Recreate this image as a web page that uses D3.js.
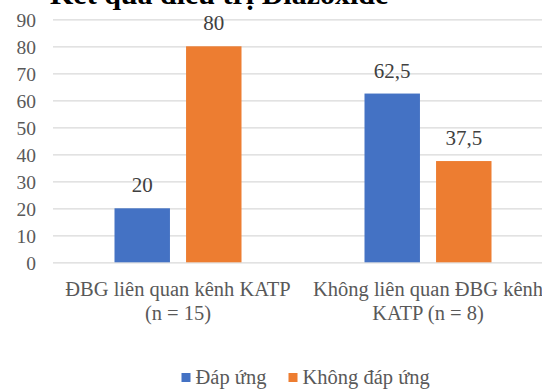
<!DOCTYPE html>
<html>
<head>
<meta charset="utf-8">
<script src="https://cdn.jsdelivr.net/npm/d3@7"></script>
<style>html,body{margin:0;background:#fff}</style>
</head>
<body>
<svg id="chart" width="542" height="392" font-family="Liberation Serif"></svg>
<script>
// Chart data
const title = "Kết quả điều trị Diazoxide";
const categories = [
  ["ĐBG liên quan kênh KATP", "(n = 15)"],
  ["Không liên quan ĐBG kênh", "KATP (n = 8)"]
];
const seriesNames = ["Đáp ứng", "Không đáp ứng"];
const responded = [20, 62.5];
const notResponded = [80, 37.5];
const yTicks = [0, 10, 20, 30, 40, 50, 60, 70, 80, 90];
const colors = ["#4472c4", "#ed7d31"];

const svg = d3.select("#chart");
const plot = { left: 53, right: 553, top: 19.3, bottom: 262.3 };

const rows = categories.map((c, i) => ({
  label: c,
  values: [responded[i], notResponded[i]]
}));

const y = d3.scaleLinear().domain([0, 90]).range([plot.bottom, plot.top]);
const x0 = d3.scaleBand()
  .domain(d3.range(categories.length))
  .range([plot.left, plot.right])
  .paddingInner(0.492)
  .paddingOuter(0.246);
const x1 = d3.scaleBand()
  .domain(d3.range(seriesNames.length))
  .range([0, x0.bandwidth()])
  .paddingInner(0.225);

// Title (runs off the top edge of the canvas)
svg.append("text")
  .attr("x", 50)
  .attr("y", 4)
  .attr("font-size", 30)
  .attr("font-weight", "bold")
  .attr("fill", "#000")
  .text(title);

// Gridlines and y tick labels
const yAxis = d3.axisLeft(y).tickValues(yTicks).tickSize(-(plot.right - plot.left)).tickPadding(17);
const gy = svg.append("g").attr("transform", `translate(${plot.left},0)`).call(yAxis);
gy.attr("font-family", "Liberation Serif").attr("font-size", 19.5);
gy.select(".domain").remove();
gy.selectAll(".tick line").attr("stroke", "#d9d9d9").attr("stroke-width", 1.2);
gy.selectAll(".tick text").attr("fill", "#595959").attr("dy", "0.36em");

// Bars
const groups = svg.append("g").selectAll("g")
  .data(rows)
  .join("g")
  .attr("transform", (d, i) => `translate(${x0(i)},0)`);

groups.selectAll("rect")
  .data(d => d.values)
  .join("rect")
  .attr("x", (v, j) => x1(j))
  .attr("width", x1.bandwidth())
  .attr("y", v => y(v))
  .attr("height", v => y(0) - y(v))
  .attr("fill", (v, j) => colors[j]);

// Value labels
const fmt = v => String(v).replace(".", ",");
groups.selectAll("text.val")
  .data(d => d.values)
  .join("text")
  .attr("class", "val")
  .attr("x", (v, j) => x1(j) + x1.bandwidth() / 2)
  .attr("y", v => y(v) - 16)
  .attr("text-anchor", "middle")
  .attr("font-size", 21)
  .attr("fill", "#404040")
  .text(fmt);

// Category labels
const cat = svg.append("g").selectAll("text")
  .data(rows)
  .join("text")
  .attr("x", (d, i) => x0(i) + x0.bandwidth() / 2)
  .attr("y", 296)
  .attr("text-anchor", "middle")
  .attr("font-size", 20.5)
  .attr("fill", "#595959");
cat.selectAll("tspan")
  .data(d => d.label)
  .join("tspan")
  .attr("x", function () { return d3.select(this.parentNode).attr("x"); })
  .attr("dy", (t, k) => k === 0 ? 0 : 23.5)
  .text(t => t);

// Legend
const legendX = [181.5, 288.5];
const leg = svg.append("g").selectAll("g")
  .data(seriesNames)
  .join("g")
  .attr("transform", (d, i) => `translate(${legendX[i]},0)`);
leg.append("rect")
  .attr("x", 0).attr("y", 373)
  .attr("width", 9).attr("height", 9)
  .attr("fill", (d, i) => colors[i]);
leg.append("text")
  .attr("x", 14).attr("y", 383.5)
  .attr("font-size", 20.5)
  .attr("fill", "#595959")
  .text(d => d);
</script>
</body>
</html>
